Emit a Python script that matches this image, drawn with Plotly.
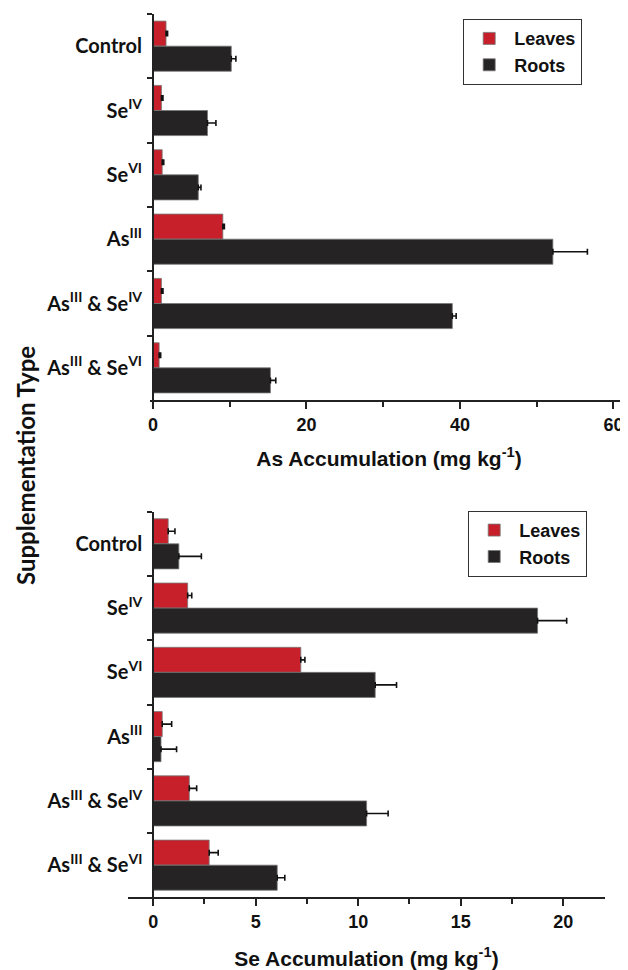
import plotly.graph_objects as go

# The page body has an 8px default margin, so the figure is sized to fit the
# 628x970 window and page-pixel positions are converted to figure pixels.
OFF = 8
W, H = 628 - OFF, 970 - OFF

categories = ["Control", "Se<sup>IV</sup>", "Se<sup>VI</sup>", "As<sup>III</sup>",
              "As<sup>III</sup> &amp; Se<sup>IV</sup>", "As<sup>III</sup> &amp; Se<sup>VI</sup>"]

as_leaves = [1.7, 1.1, 1.2, 9.1, 1.1, 0.8]
as_leaves_err = [0.2, 0.2, 0.2, 0.2, 0.2, 0.2]
as_roots = [10.2, 7.1, 5.9, 52.1, 39.0, 15.3]
as_roots_err = [0.6, 1.1, 0.35, 4.5, 0.5, 0.7]

se_leaves = [0.73, 1.68, 7.2, 0.44, 1.76, 2.73]
se_leaves_err = [0.33, 0.2, 0.2, 0.46, 0.36, 0.44]
se_roots = [1.25, 18.75, 10.83, 0.38, 10.41, 6.05]
se_roots_err = [1.1, 1.42, 1.04, 0.76, 1.05, 0.37]

RED = "#C8202A"
DARK = "#262324"

def px_x(p):
    return (p - OFF) / W

def px_y(p):
    return 1 - (p - OFF) / H

fig = go.Figure()

def add_bars(vals, errs, name, color, xa, ya, legend):
    fig.add_trace(go.Bar(
        y=categories, x=vals, orientation="h", name=name,
        marker=dict(color=color, line=dict(color="#777777", width=0.8)),
        error_x=dict(type="data", array=errs, arrayminus=[0] * len(errs),
                     symmetric=False, color="#111111", thickness=1.6, width=3),
        xaxis=xa, yaxis=ya, legend=legend,
    ))

add_bars(as_leaves, as_leaves_err, "Leaves", RED, "x", "y", "legend")
add_bars(as_roots, as_roots_err, "Roots", DARK, "x", "y", "legend")
add_bars(se_leaves, se_leaves_err, "Leaves", RED, "x2", "y2", "legend2")
add_bars(se_roots, se_roots_err, "Roots", DARK, "x2", "y2", "legend2")

tickfont = dict(family="Liberation Sans, Arial", size=18, color="#111111", weight="bold")
titlefont = dict(family="Liberation Sans, Arial", size=21, color="#111111", weight="bold")
catfont = dict(family="Lato", size=20, color="#111111", weight="bold")
legfont = dict(family="Liberation Sans, Arial", size=18, color="#111111", weight="bold")

axis_common = dict(showline=True, linecolor="#222222", linewidth=2,
                   showgrid=False, zeroline=False, automargin=False)

fig.update_layout(
    width=W, height=H,
    margin=dict(l=0, r=0, t=0, b=0, autoexpand=False),
    paper_bgcolor="white", plot_bgcolor="white",
    barmode="group", bargap=0.22, bargroupgap=0.0,
    xaxis=dict(domain=[px_x(150), px_x(628)], range=[-0.39, 61.89], anchor="y",
               tickvals=[0, 20, 40, 60], ticks="outside", ticklen=7, tickwidth=2,
               tickcolor="#222222", tickfont=tickfont,
               minor=dict(tickvals=[10, 30, 50], ticks="outside", ticklen=5,
                          tickwidth=2, tickcolor="#222222"),
               title=dict(text="As Accumulation (mg kg<sup>-1</sup>)", font=titlefont,
                          standoff=18),
               **axis_common),
    yaxis=dict(domain=[px_y(400), px_y(14)], anchor="free", position=px_x(153),
               range=[5.5, -0.5], type="category", tickson="boundaries",
               ticks="outside", ticklen=5, tickwidth=2, tickcolor="#222222",
               tickfont=catfont, ticklabelstandoff=6,
               **axis_common),
    xaxis2=dict(domain=[px_x(128), px_x(605)], range=[-1.23, 22.04], anchor="y2",
                tickvals=[0, 5, 10, 15, 20], ticks="outside", ticklen=7, tickwidth=2,
                tickcolor="#222222", tickfont=tickfont,
                minor=dict(tickvals=[2.5, 7.5, 12.5, 17.5], ticks="outside", ticklen=5,
                           tickwidth=2, tickcolor="#222222"),
                title=dict(text="Se Accumulation (mg kg<sup>-1</sup>)", font=titlefont,
                           standoff=20),
                **axis_common),
    yaxis2=dict(domain=[px_y(897.3), px_y(511.7)], anchor="free", position=px_x(153.3),
                range=[5.5, -0.5], type="category", tickson="boundaries",
                ticks="outside", ticklen=5, tickwidth=2, tickcolor="#222222",
                tickfont=catfont, ticklabelstandoff=6,
                **axis_common),
    legend=dict(x=px_x(463), y=px_y(19), xanchor="left", yanchor="top",
                bordercolor="#333333", borderwidth=1.2, bgcolor="white",
                font=legfont, tracegroupgap=0, itemwidth=40),
    legend2=dict(x=px_x(468), y=px_y(510.7), xanchor="left", yanchor="top",
                 bordercolor="#333333", borderwidth=1.2, bgcolor="white",
                 font=legfont, tracegroupgap=0, itemwidth=40),
    annotations=[dict(text="Supplementation Type", textangle=-90,
                      x=px_x(25), y=px_y(466), xref="paper", yref="paper",
                      showarrow=False, xanchor="center", yanchor="middle",
                      font=dict(family="Lato", size=24, color="#111111", weight="bold"))],
    showlegend=True,
)

fig.write_html("out.html")
